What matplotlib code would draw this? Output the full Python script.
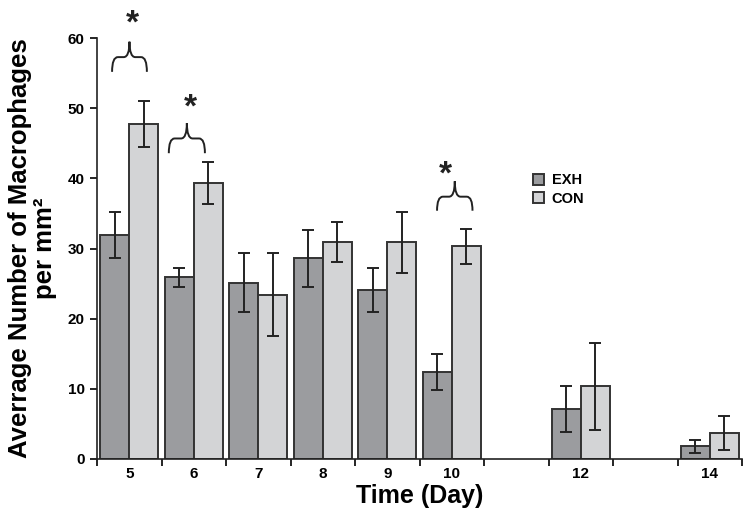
import numpy as np
import matplotlib
matplotlib.use("Agg")
import matplotlib.pyplot as plt
from matplotlib.path import Path
from matplotlib.patches import PathPatch

plt.rcParams['font.family'] = ['Liberation Sans', 'DejaVu Sans']

days = [5, 6, 7, 8, 9, 10, 12, 14]
exh = [31.9, 25.9, 25.1, 28.6, 24.1, 12.4, 7.1, 1.8]
exh_err = [3.3, 1.35, 4.2, 4.1, 3.15, 2.6, 3.3, 0.9]
con = [47.8, 39.3, 23.4, 31.0, 30.9, 30.3, 10.4, 3.7]
con_err = [3.3, 3.0, 5.9, 2.85, 4.35, 2.5, 6.2, 2.4]
tick_days = list(range(5, 15))
tick_labels = ['5', '6', '7', '8', '9', '10', '', '12', '', '14']

# significance braces: (x left, x right, end y, flat y, tip y, star x, star y)
braces = [
    (4.73, 5.27, 55.2, 57.3, 59.5, 5.05, 63.3),
    (5.61, 6.17, 43.6, 45.7, 47.9, 5.94, 51.4),
    (9.77, 10.32, 35.4, 37.4, 39.6, 9.90, 41.8),
]

fig = plt.figure(figsize=(7.48, 5.23), dpi=100)
ax = fig.add_axes([0.13, 0.1224, 0.862, 0.8046])

x = np.array(days, dtype=float)
w = 0.45
ek = dict(ecolor='#222222', elinewidth=1.4, capsize=4, capthick=1.4)
ax.bar(x - w / 2, exh, w, yerr=exh_err, color='#9b9c9f', edgecolor='#333333',
       linewidth=1.4, label='EXH', error_kw=ek, zorder=2)
ax.bar(x + w / 2, con, w, yerr=con_err, color='#d3d4d6', edgecolor='#333333',
       linewidth=1.4, label='CON', error_kw=ek, zorder=2)


def brace(ax, x0, x1, yb, yh, yt):
    xm = (x0 + x1) / 2
    r = 0.09
    verts = [(x0, yb), (x0, yh), (x0 + r, yh), (xm - r, yh), (xm, yh), (xm, yt),
             (xm, yh), (xm + r, yh), (x1 - r, yh), (x1, yh), (x1, yb)]
    codes = [Path.MOVETO, Path.CURVE3, Path.CURVE3, Path.LINETO, Path.CURVE3, Path.CURVE3,
             Path.CURVE3, Path.CURVE3, Path.LINETO, Path.CURVE3, Path.CURVE3]
    ax.add_patch(PathPatch(Path(verts, codes), fill=False, lw=1.4,
                           edgecolor='#222222', clip_on=False))


for b in braces:
    brace(ax, b[0], b[1], b[2], b[3], b[4])
    ax.text(b[5], b[6] - 1.3, '*', fontsize=24, fontweight='bold', ha='center',
            va='center', color='#222222', clip_on=False)

ax.set_xlim(4.5, 14.5)
ax.set_ylim(0, 60)
ax.set_yticks(range(0, 61, 10))
ax.set_xticks(tick_days)
ax.set_xticklabels(tick_labels)
ax.set_xticks(np.arange(4.5, 15, 1), minor=True)
ax.tick_params(axis='x', which='major', length=0, pad=6)
ax.tick_params(axis='x', which='minor', length=5, width=1.2, direction='out')
ax.tick_params(axis='y', length=5, width=1.2, direction='out', pad=4)
for lab in ax.get_xticklabels() + ax.get_yticklabels():
    lab.set_fontweight('bold')
    lab.set_fontsize(11)

for s in ['top', 'right']:
    ax.spines[s].set_visible(False)
for s in ['left', 'bottom']:
    ax.spines[s].set_linewidth(1.2)
    ax.spines[s].set_color('#222222')

ax.set_xlabel('Time (Day)', fontsize=18, fontweight='bold', labelpad=2)
ax.set_ylabel('Averrage Number of Macrophages\nper mm²', fontsize=18.5,
              fontweight='bold', labelpad=8, linespacing=1.05)

leg = ax.legend(loc='upper left', bbox_to_anchor=(0.655, 0.71), frameon=False,
                prop={'weight': 'bold', 'size': 10.5}, handlelength=0.8,
                handleheight=0.8, handletextpad=0.5, labelspacing=0.3)

plt.savefig('out.png', dpi=100)
